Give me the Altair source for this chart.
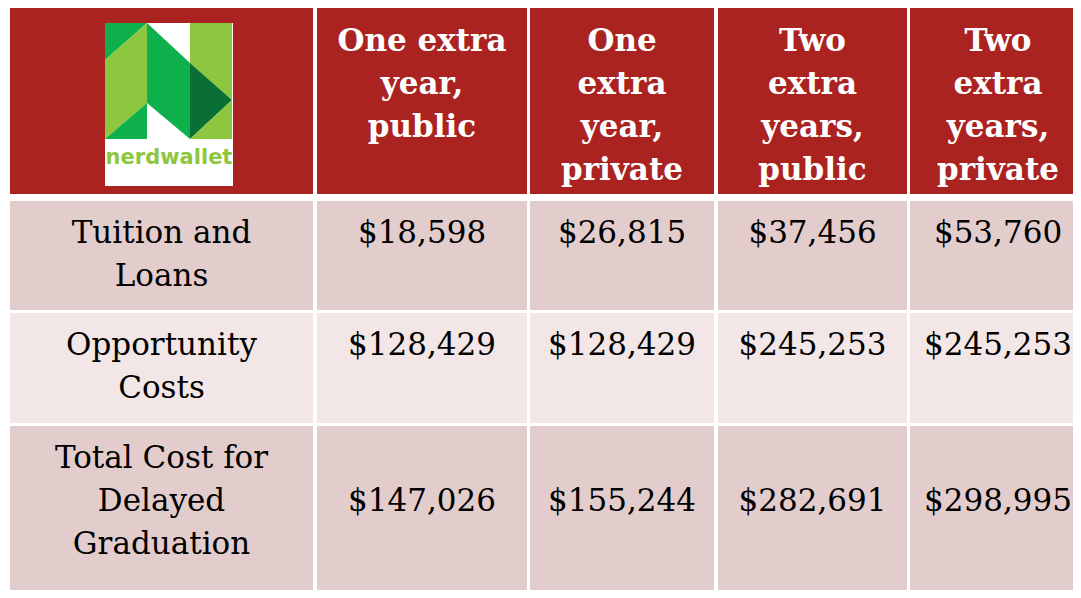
import altair as alt
import pandas as pd

# ---- table content ----
headers = ["One extra\nyear,\npublic", "One\nextra\nyear,\nprivate",
           "Two\nextra\nyears,\npublic", "Two\nextra\nyears,\nprivate"]
row_labels = ["Tuition and\nLoans", "Opportunity\nCosts", "Total Cost for\nDelayed\nGraduation"]
tuition_loans = ["$18,598", "$26,815", "$37,456", "$53,760"]
opportunity_costs = ["$128,429", "$128,429", "$245,253", "$245,253"]
total_cost = ["$147,026", "$155,244", "$282,691", "$298,995"]
logo_word = "nerdwallet"

# ---- layout (pixel grid of the table) ----
col_left = [10, 317, 530, 718, 910]
col_right = [313, 527, 714, 907, 1100]
text_center = [161.5, 422, 622, 812.5, 998]
row_top = [7, 201, 313, 426]
row_bottom = [194, 310, 423, 600]
row_fill = ["#AB2320", "#E3CCCC", "#F2E6E6", "#E3CCCC"]

# logo: white card and x-monotone polygons (shape, x, top, bottom)
logo_box = (105, 233, 23, 186)
logo_parts = [
    ("a", "#0DB04B", [(105, 23, 60), (147, 23, 23)]),
    ("b", "#8DC63F", [(105, 60, 139), (147, 23, 103)]),
    ("c", "#0DB04B", [(105, 139, 139), (147, 103, 139)]),
    ("d", "#0DB04B", [(147, 23, 103), (190, 63, 139)]),
    ("e", "#8DC63F", [(190, 23, 63), (232, 23, 100)]),
    ("f", "#0A6F35", [(190, 63, 139), (232, 100, 100)]),
    ("g", "#8DC63F", [(190, 139, 139), (232, 100, 139)]),
]

# ---- build tables ----
cells = []
for r in range(4):
    for c in range(5):
        cells.append({"x": col_left[c], "x2": col_right[c], "y": row_top[r],
                      "y2": row_bottom[r], "fill": row_fill[r]})
cells_df = pd.DataFrame(cells)

value_rows = [tuition_loans, opportunity_costs, total_cost]
texts = []
for c, h in enumerate(headers):
    texts.append({"x": text_center[c + 1], "y": row_top[0] + 20,
                  "t": h, "kind": "head"})
for r, lab in enumerate(row_labels):
    texts.append({"x": text_center[0], "y": row_top[r + 1] + 18,
                  "t": lab, "kind": "body"})
    for c, v in enumerate(value_rows[r]):
        t = v if r < 2 else "\n" + v
        texts.append({"x": text_center[c + 1],
                      "y": row_top[r + 1] + 18, "t": t, "kind": "body"})
texts_df = pd.DataFrame(texts)

poly = []
for name, color, pts in logo_parts:
    for (px, top, bot) in pts:
        poly.append({"shape": name, "fill": color, "x": px, "y": top, "y2": bot})
poly_df = pd.DataFrame(poly)

box_df = pd.DataFrame([{"x": logo_box[0], "x2": logo_box[1], "y": logo_box[2], "y2": logo_box[3]}])
word_df = pd.DataFrame([{"x": (logo_box[0] + logo_box[1]) / 2, "y": 158, "t": logo_word}])

xs = alt.Scale(domain=[8, 1073], nice=False, zero=False)
ys = alt.Scale(domain=[8, 590], nice=False, zero=False, reverse=True)

def X(f="x"):
    return alt.X(f"{f}:Q", scale=xs, axis=None)

def Y(f="y"):
    return alt.Y(f"{f}:Q", scale=ys, axis=None, stack=None)

rects = alt.Chart(cells_df).mark_rect().encode(
    x=X(), x2="x2:Q", y=Y(), y2="y2:Q",
    fill=alt.Fill("fill:N", scale=None))

box = alt.Chart(box_df).mark_rect(fill="white").encode(
    x=X(), x2="x2:Q", y=Y(), y2="y2:Q")

logo = alt.Chart(poly_df).mark_area(interpolate="linear").encode(
    x=X(), y=Y(), y2="y2:Q",
    fill=alt.Fill("fill:N", scale=None),
    detail="shape:N")

word = alt.Chart(word_df).mark_text(
    font="DejaVu Sans", fontWeight="bold", fontSize=21, color="#8DC63F",
    baseline="middle", align="center").encode(x=X(), y=Y(), text="t:N")

head = alt.Chart(texts_df[texts_df.kind == "head"]).mark_text(
    font="DejaVu Serif", fontWeight="bold", fontSize=31, color="white",
    baseline="top", align="center", lineBreak="\n", lineHeight=43).encode(
    x=X(), y=Y(), text="t:N")

body = alt.Chart(texts_df[texts_df.kind == "body"]).mark_text(
    font="DejaVu Serif", fontSize=31, color="black",
    baseline="top", align="center", lineBreak="\n", lineHeight=43).encode(
    x=X(), y=Y(), text="t:N")

chart = alt.layer(rects, box, logo, word, head, body).properties(
    width=1065, height=582, padding=0, background="white",
    autosize=alt.AutoSizeParams(type="none")
).configure_view(stroke=None, clip=True)

chart.save("out.html", embed_options={"renderer": "svg", "actions": False})
